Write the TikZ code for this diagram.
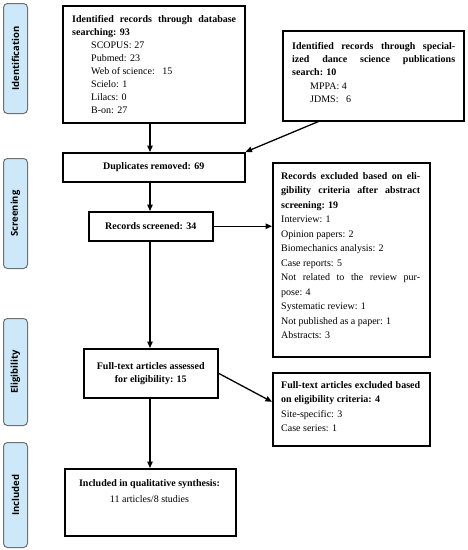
\documentclass[tikz,border=0pt]{standalone}
\usepackage{fontspec}
\setmainfont{Liberation Serif}
\newfontfamily\sidefont{Open Sans}
\usetikzlibrary{arrows.meta,calc}
\definecolor{sidefill}{HTML}{CDE9F9}
\definecolor{sideline}{HTML}{707070}
\begin{document}
\begin{tikzpicture}[x=1pt,y=-1pt,
  box/.style={draw=black, line width=1.5pt, inner sep=0pt, anchor=north west},
  cbox/.style={box, font=\bfseries\fontsize{10}{13}\selectfont, align=center},
  side/.style={draw=sideline, fill=sidefill, rounded corners=4pt, line width=1pt,
    anchor=north west, inner sep=0pt, minimum width=24pt},
  sidetxt/.style={rotate=90, font=\sidefont\bfseries\fontsize{9.5}{11}\selectfont, inner sep=0pt},
  txt/.style={anchor=north west, inner sep=0pt, align=justify},
  arr/.style={-{Triangle[length=6.5pt,width=5.5pt]}, line width=1.3pt}
]
\useasboundingbox (0,0) rectangle (468,550);
\coordinate (col) at (150,0);

% side labels
\node[side, minimum height=110pt] (sI) at (3,3) {};
\node[sidetxt] (sIt) at (sI.center) {Identification};
\node[side, minimum height=110pt] (sS) at (3,158) {};
\node[sidetxt] (sSt) at (sS.center) {Screening};
\node[side, minimum height=107pt] (sE) at (3,318) {};
\node[sidetxt] (sEt) at (sE.center) {Eligibility};
\node[side, minimum height=105pt] (sN) at (3,442) {};
\node[sidetxt] (sNt) at (sN.center) {Included};

% boxes
\node[box, minimum width=182pt, minimum height=117pt] (A) at (62,5) {};
\node[txt, text width=164pt, font=\fontsize{10}{12.9}\selectfont] (At) at (72,15.5)
 {{\bfseries Identified records through database\linebreak searching: 93}\par
  \hspace*{19pt}SCOPUS: 27\par
  \hspace*{19pt}Pubmed: 23\par
  \hspace*{19pt}Web of science:\ \ \ 15\par
  \hspace*{19pt}Scielo: 1\par
  \hspace*{19pt}Lilacs: 0\par
  \hspace*{19pt}B-on: 27};

\node[box, minimum width=181pt, minimum height=90pt] (B) at (282,30) {};
\node[txt, text width=163pt, font=\fontsize{10}{13.3}\selectfont] (Bt) at (292,42)
 {{\bfseries Identified records through special-\linebreak ized dance science publications\linebreak search: 10}\par
  \hspace*{18pt}MPPA: 4\par
  \hspace*{18pt}JDMS:\ \ \ 6};

\node[cbox, minimum width=182pt, minimum height=29pt] (D) at (62,152) {Duplicates removed: 69};
\node[cbox, minimum width=124pt, minimum height=29pt] (R) at (88,211) {Records screened: 34};

\node[box, minimum width=157pt, minimum height=194pt] (E1) at (272,162) {};
\node[txt, text width=139pt, font=\fontsize{10}{14.5}\selectfont] (E1t) at (281,172)
 {{\bfseries Records excluded based on eli-\linebreak gibility criteria after abstract\linebreak screening: 19}\par
  Interview: 1\par
  Opinion papers: 2\par
  Biomechanics analysis: 2\par
  Case reports: 5\par
  Not related to the review pur-\linebreak pose: 4\par
  Systematic review: 1\par
  Not published as a paper: 1\par
  Abstracts: 3};

\node[cbox, minimum width=134pt, minimum height=49pt] (F) at (83,348) {Full-text articles assessed\\for eligibility: 15};

\node[box, minimum width=157pt, minimum height=73pt] (E2) at (272,372) {};
\node[txt, text width=139pt, font=\fontsize{10}{14.5}\selectfont] (E2t) at (281,381)
 {{\bfseries Full-text articles excluded based\linebreak on eligibility criteria: 4}\par
  Site-specific: 3\par
  Case series: 1};

\node[box, minimum width=171pt, minimum height=67pt] (I) at (64,468) {};
\node[anchor=north, inner sep=0pt, align=center, font=\fontsize{10}{13}\selectfont] (It) at (149.5,479)
 {{\bfseries Included in qualitative synthesis:}\\[3pt]11 articles/8 studies};

% connectors
\draw[arr] (A.south -| col) -- (D.north -| col);
\draw[arr] ($(B.south west)!0.2!(B.south east)$) -- (D.north east);
\draw[arr] (D.south -| col) -- (R.north -| col);
\draw[arr] (R.east) -- (E1.west |- R.east);
\draw[arr] (R.south -| col) -- (F.north -| col);
\draw[arr] (F.east) -- ($(E2.north west)!0.4!(E2.south west)$);
\draw[arr] (F.south -| col) -- (I.north -| col);
\end{tikzpicture}
\end{document}
